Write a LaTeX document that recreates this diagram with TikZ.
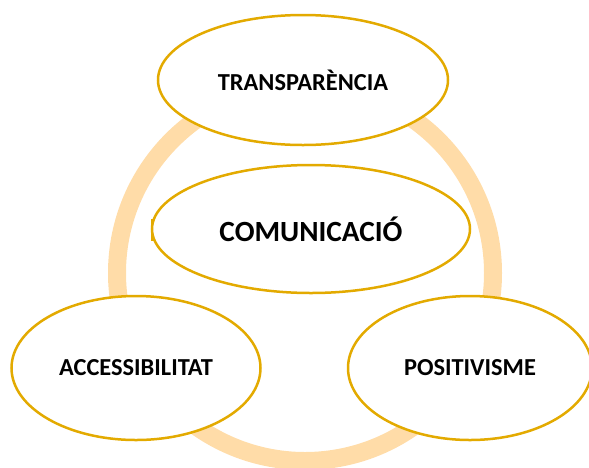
\documentclass[tikz,border=0pt]{standalone}
\usepackage{fontspec}
\setmainfont{Carlito}
\usetikzlibrary{shapes.geometric}
\definecolor{ringc}{HTML}{FFDCA8}
\definecolor{goldc}{HTML}{E3AA00}
\begin{document}
\begin{tikzpicture}[x=1pt,y=-1pt,
  bubble/.style={ellipse, draw=goldc, line width=2.5pt, fill=white, inner sep=0pt,
    font=\fontsize{24.4}{29}\selectfont\bfseries}]
\useasboundingbox (0,0) rectangle (589,467);
\draw[ringc, line width=18pt] (305,273) circle (188);
\node[bubble, minimum width=290, minimum height=130] (t) at (303,80) {TRANSPAR\`ENCIA};
\draw[goldc, line width=3pt] (152.5,219) -- (152.5,241);
\node[bubble, minimum width=318, minimum height=128, font=\fontsize{29.3}{34}\selectfont\bfseries] (c) at (311,229) {COMUNICACI\'O};
\node[bubble, minimum width=249, minimum height=144] (a) at (136,368) {ACCESSIBILITAT};
\node[bubble, minimum width=244, minimum height=144] (p) at (470,368) {POSITIVISME};
\end{tikzpicture}
\end{document}
